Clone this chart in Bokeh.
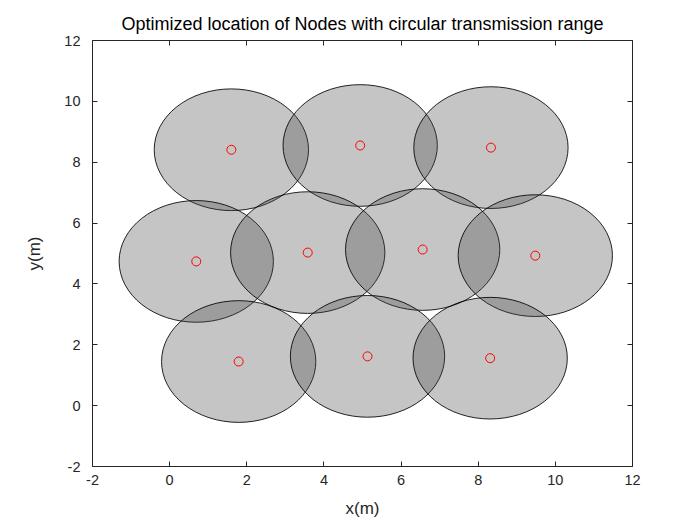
from bokeh.plotting import figure
from bokeh.models import Range1d, LinearAxis, FixedTicker
from bokeh.embed import file_html
from bokeh.resources import INLINE

# Node centres (m) and transmission radius (m)
node_x = [1.60, 4.94, 8.33, 0.69, 3.58, 6.56, 9.48, 1.79, 5.13, 8.31]
node_y = [8.41, 8.55, 8.48, 4.74, 5.03, 5.13, 4.93, 1.45, 1.62, 1.56]
radius = 2.0
ticks = [-2, 0, 2, 4, 6, 8, 10, 12]
tick_labels = ["-2", "0", "2", "4", "6", "8", "10", "12"]
title_text = "Optimized location of Nodes with circular transmission range"
x_label = "x(m)"
y_label = "y(m)"

FONT = "Liberation Sans"

p = figure(width=696, height=522, x_range=Range1d(-2, 12), y_range=Range1d(-2, 12),
           output_backend="svg", toolbar_location=None,
           min_border_left=92, min_border_right=64, min_border_top=40, min_border_bottom=56)

p.grid.visible = False
p.outline_line_color = None
p.background_fill_color = "white"
p.border_fill_color = "white"

p.title.text = title_text
p.title.align = "center"
p.title.text_font = FONT
p.title.text_font_size = "18px"
p.title.text_font_style = "normal"
p.title.text_color = "black"
p.title.standoff = 13

overrides = {t: s for t, s in zip(ticks, tick_labels)}

def style_axis(ax, labels=True):
    ax.ticker = FixedTicker(ticks=ticks)
    ax.major_label_overrides = overrides
    ax.major_tick_in = 5
    ax.major_tick_out = 0
    ax.minor_tick_in = 0
    ax.minor_tick_out = 0
    ax.axis_line_color = "#262626"
    ax.major_tick_line_color = "#262626"
    ax.major_label_text_font = FONT
    ax.major_label_text_font_size = "14.5px"
    ax.major_label_text_color = "#262626"
    ax.axis_label_text_font = FONT
    ax.axis_label_text_font_size = "17px"
    ax.axis_label_text_font_style = "normal"
    ax.axis_label_text_color = "#262626"
    if not labels:
        ax.major_label_text_alpha = 0
        ax.major_label_text_font_size = "1px"
        ax.major_label_standoff = 0

style_axis(p.xaxis[0])
style_axis(p.yaxis[0])
p.xaxis[0].axis_label = x_label
p.yaxis[0].axis_label = y_label
p.xaxis[0].major_label_standoff = 8
p.yaxis[0].major_label_standoff = 12
p.xaxis[0].axis_label_standoff = 11
p.yaxis[0].axis_label_standoff = 17

top = LinearAxis()
right = LinearAxis()
style_axis(top, labels=False)
style_axis(right, labels=False)
p.add_layout(top, "above")
p.add_layout(right, "right")

p.ellipse(x=node_x, y=node_y, width=2 * radius, height=2 * radius,
          fill_color=(68, 68, 68), fill_alpha=0.31,
          line_color="black", line_alpha=0.85, line_width=1)

p.scatter(x=node_x, y=node_y, marker="circle", size=9,
          fill_color=None, line_color="red", line_width=1)

open("out.html", "w").write(file_html(p, INLINE))
